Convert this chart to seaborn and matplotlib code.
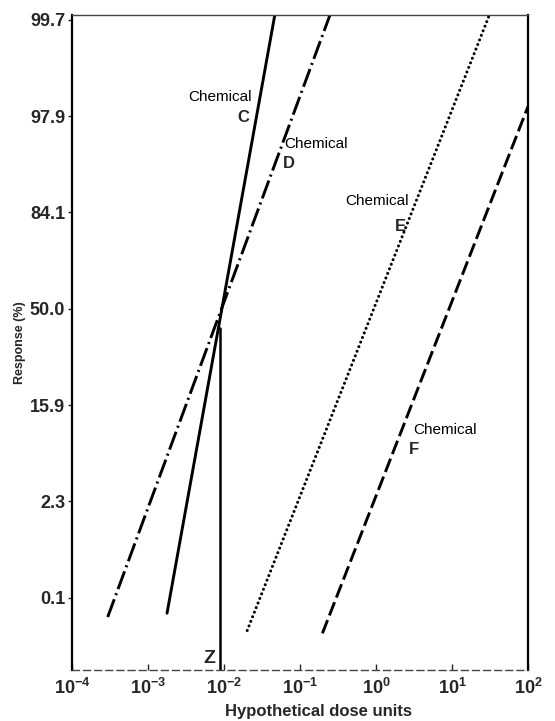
import matplotlib
matplotlib.use("Agg")
import matplotlib.pyplot as plt
import numpy as np
import pandas as pd
import seaborn as sns

# ---- data (dose in hypothetical units, response as probit / normal equivalent deviate) ----
chemicals = ["C", "D", "E", "F"]
dose_low = [1.78e-3, 2.95e-4, 0.0202, 0.197]
dose_high = [0.0466, 0.248, 30.3, 100.0]
probit_low = [-3.16, -3.20, -3.34, -3.37]
probit_high = [3.05, 3.05, 3.03, 2.10]

z_dose = [0.0088, 0.0088]
z_probit = [-3.75, -0.2]

ytick_pos = [-3, -2, -1, 0, 1, 2, 3]
ytick_labels = ["0.1", "2.3", "15.9", "50.0", "84.1", "97.9", "99.7"]
xtick_pos = [1e-4, 1e-3, 1e-2, 1e-1, 1e0, 1e1, 1e2]
xtick_labels = ["$10^{-4}$", "$10^{-3}$", "$10^{-2}$", "$10^{-1}$",
                "$10^{0}$", "$10^{1}$", "$10^{2}$"]

rows = []
for c, d0, d1, p0, p1 in zip(chemicals, dose_low, dose_high, probit_low, probit_high):
    rows.append({"chemical": c, "dose": d0, "probit": p0})
    rows.append({"chemical": c, "dose": d1, "probit": p1})
df = pd.DataFrame(rows)
zdf = pd.DataFrame({"dose": z_dose, "probit": z_probit})

sns.set_theme(style="white")
plt.rcParams["font.family"] = ["Liberation Sans", "DejaVu Sans"]
plt.rcParams["mathtext.default"] = "regular"

fig = plt.figure(figsize=(5.55, 7.21), dpi=100)
ax = fig.add_axes([72 / 555, 1 - 670 / 721, 456 / 555, 655 / 721])

dash_map = {
    "C": "",
    "D": (6.5, 1.5, 0.7, 1.5),
    "E": (0.01, 1.6),
    "F": (4.9, 1.7),
}
sns.lineplot(data=df, x="dose", y="probit", style="chemical", dashes=dash_map,
             color="black", lw=2.1, legend=False, ax=ax, estimator=None, sort=False)
for line in ax.lines:
    line.set_dash_capstyle("butt")
# dotted line E with round dots
ax.lines[2].set_linewidth(2.2)
ax.lines[2].set_dashes((0.01, 1.6))
ax.lines[2].set_dash_capstyle("round")

sns.lineplot(data=zdf, x="dose", y="probit", color="black", lw=1.8, ax=ax,
             estimator=None, sort=False)

ax.set_xscale("log")
ax.set_xlim(1e-4, 1e2)
ax.set_ylim(-3.75, 3.05)
ax.set_xticks(xtick_pos)
ax.set_xticklabels(xtick_labels)
ax.xaxis.set_minor_locator(matplotlib.ticker.NullLocator())
ax.set_yticks(ytick_pos)
ax.set_yticklabels(ytick_labels)

ax.tick_params(axis="y", direction="out", length=3, width=1, pad=2,
               labelsize=13, left=True)
ax.tick_params(axis="x", direction="in", length=4, width=1, pad=6,
               labelsize=13, bottom=True)
for lab in ax.get_yticklabels() + ax.get_xticklabels():
    lab.set_fontweight("bold")

ax.set_xlabel("Hypothetical dose units", fontsize=12, fontweight="bold")
ax.xaxis.set_label_coords(0.54, -0.052)
ax.set_ylabel("Response (%)", fontsize=9, fontweight="bold")
ax.yaxis.set_label_coords(-0.1, 0.5)

for side in ["left", "right"]:
    ax.spines[side].set_color("black")
    ax.spines[side].set_linewidth(1.6)
ax.spines["top"].set_color("#444444")
ax.spines["top"].set_linewidth(1.0)
ax.spines["bottom"].set_color("#444444")
ax.spines["bottom"].set_linewidth(1.0)
ax.spines["bottom"].set_linestyle((0, (5, 3)))

txt = dict(fontsize=11, color="black", va="center")
ax.text(0.0232, 2.20, "Chemical", ha="right", **txt)
ax.text(0.0216, 1.99, "C", ha="right", fontsize=12, va="center", fontweight="bold")
ax.text(0.0621, 1.71, "Chemical", ha="left", **txt)
ax.text(0.0598, 1.51, "D", ha="left", fontsize=12, va="center", fontweight="bold")
ax.text(2.72, 1.115, "Chemical", ha="right", **txt)
ax.text(2.46, 0.855, "E", ha="right", fontsize=12, va="center", fontweight="bold")
ax.text(3.11, -1.256, "Chemical", ha="left", **txt)
ax.text(2.74, -1.464, "F", ha="left", fontsize=12, va="center", fontweight="bold")
ax.text(0.0065, -3.63, "Z", ha="center", va="center", fontsize=14, fontweight="bold")

fig.savefig("out.png", dpi=100, facecolor="white")
